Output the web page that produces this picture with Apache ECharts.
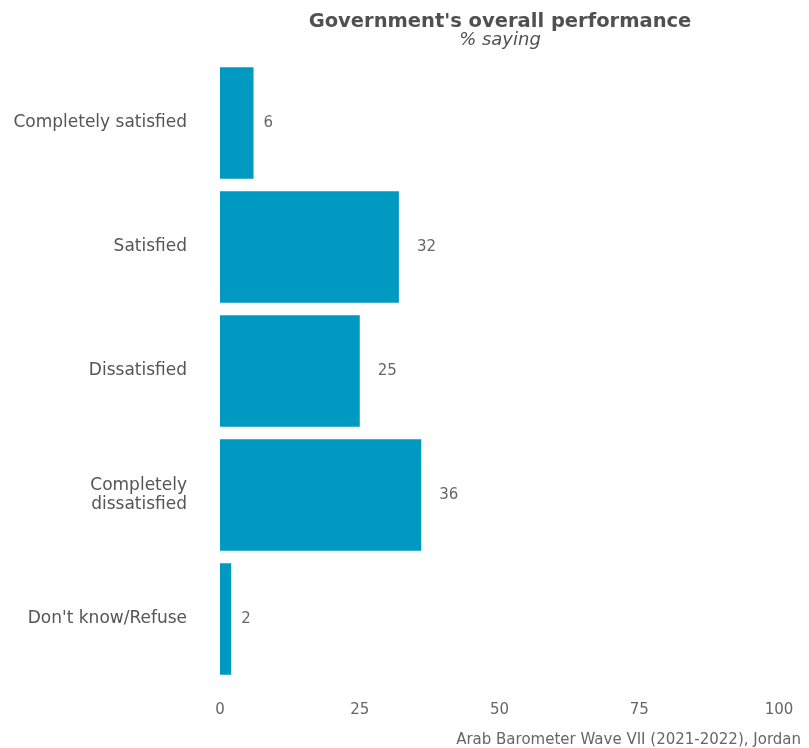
<!DOCTYPE html>
<html><head><meta charset="utf-8">
<script src="https://cdn.jsdelivr.net/npm/echarts@6/dist/echarts.min.js"></script>
<style>html,body{margin:0;padding:0;background:#fff}#c{width:809px;height:748px}</style>
</head><body><div id="c"></div>
<script>
const categories = ["Completely satisfied", "Satisfied", "Dissatisfied", "Completely\ndissatisfied", "Don't know/Refuse"];
const values = [6, 32, 25, 36, 2];
const xTicks = [0, 25, 50, 75, 100];
const FONT = "DejaVu Sans";
const chart = echarts.init(document.getElementById('c'));
chart.setOption({
  animation: false,
  title: [
    {text: "Government's overall performance", left: 495, top: 7, textAlign: 'center',
     textStyle: {fontFamily: FONT, fontSize: 19.5, fontWeight: 'bold', color: '#505050'}},
    {text: "% saying", left: 495, top: 26, textAlign: 'center',
     textStyle: {fontFamily: FONT, fontSize: 18, fontStyle: 'italic', fontWeight: 'normal', color: '#505050'}},
    {text: "Arab Barometer Wave VII (2021-2022), Jordan", right: 3, top: 728,
     textStyle: {fontFamily: FONT, fontSize: 15, fontWeight: 'normal', color: '#666'}}
  ],
  grid: {left: 220, right: 30, top: 61, bottom: 67, containLabel: false},
  xAxis: {type: 'value', min: 0, max: 100, interval: 25,
    axisLine: {show: false}, axisTick: {show: false}, splitLine: {show: false},
    axisLabel: {fontFamily: FONT, fontSize: 15, color: '#666', margin: 22,
      formatter: v => xTicks.includes(v) ? String(v) : ''}},
  yAxis: {type: 'category', data: categories, inverse: true,
    axisLine: {show: false}, axisTick: {show: false},
    axisLabel: {fontFamily: FONT, fontSize: 17, color: '#555', margin: 33, align: 'right', lineHeight: 19, padding: [3, 0, 0, 0]}},
  series: [{type: 'bar', barCategoryGap: '10%',
    data: values.map(v => ({value: v, label: {distance: String(v).length > 1 ? 18 : 10}})),
    itemStyle: {color: '#0099C2'},
    label: {show: true, position: 'right', fontFamily: FONT, fontSize: 15, color: '#666'}}]
});
</script></body></html>
